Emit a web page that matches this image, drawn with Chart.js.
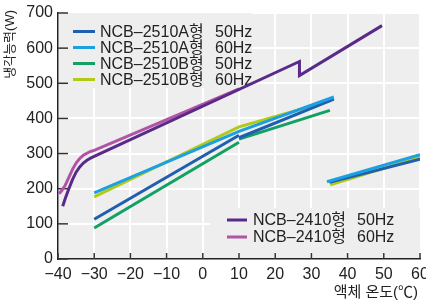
<!DOCTYPE html>
<html lang="ko">
<head>
  <meta charset="UTF-8">
  <title>냉각능력 – 액체 온도</title>
  <script src="https://cdn.jsdelivr.net/npm/chart.js"></script>
  <style>
    html, body { margin: 0; padding: 0; background: #fff; }
    #chart { display: block; }
  </style>
</head>
<body>
<canvas id="chart" width="426" height="302"></canvas>
<script>
  // values (null = break in the line)
  const a50Temp = [-30, 10, 10, 10, 36.2, 35, 35, 60];
  const a50Cap  = [113, 352, null, 345, 455, null, 218, 284];
  const a60Temp = [-30, 10, 36.2, 34.3, 34.3, 60];
  const a60Cap  = [188, 363, 461, null, 220, 297];
  const b50Temp = [-30, 10, 10, 10, 35.1];
  const b50Cap  = [88, 332, null, 341, 423];
  const b60Temp = [-30, 10, 35.1, 35.2, 35.2, 60];
  const b60Cap  = [177, 376, 450, null, 211, 290];
  const n50Temp = [-38.7, -38, -37, -36, -35, -34, -33, -32, -31, -30, 26.7, 26.7, 49.5];
  const n50Cap  = [150, 172, 200, 226, 247, 262, 273, 281, 287, 292, 562, 522, 664];
  const n60Temp = [-39.7, -39, -38, -37, -36, -35, -34, -33, -32, -31, -30, 10];
  const n60Cap  = [186, 194, 210, 232, 255, 273, 286, 295, 301, 306, 309, 484];

  const xTicks = [-40, -30, -20, -10, 0, 10, 20, 30, 40, 50, 60];
  const yTicks = [0, 100, 200, 300, 400, 500, 600, 700];

  const FONT = "'Liberation Sans', 'Noto Sans CJK KR', Arial, sans-serif";
  const INK = '#222';
  const PANEL = '#eeeeee';

  const series = [
    { name: 'NCB–2410형', hz: '50Hz', color: '#5a2a8a', t: n50Temp, c: n50Cap },
    { name: 'NCB–2410형', hz: '60Hz', color: '#b154a6', t: n60Temp, c: n60Cap },
    { name: 'NCB–2510A형', hz: '60Hz', color: '#1ba0e2', t: a60Temp, c: a60Cap },
    { name: 'NCB–2510A형', hz: '50Hz', color: '#1f5fae', t: a50Temp, c: a50Cap },
    { name: 'NCB–2510B형', hz: '60Hz', color: '#b2c918', t: b60Temp, c: b60Cap },
    { name: 'NCB–2510B형', hz: '50Hz', color: '#12a064', t: b50Temp, c: b50Cap }
  ];

  const topLegend = [series[3], series[2], series[5], series[4]];
  const bottomLegend = [series[0], series[1]];

  const panel = {
    id: 'panel',
    beforeDraw(chart) {
      const { ctx, chartArea: a } = chart;
      ctx.save();
      ctx.fillStyle = PANEL;
      ctx.fillRect(a.left, a.top, a.right - a.left, a.bottom - a.top);
      ctx.restore();
    },
    beforeDatasetsDraw(chart) {
      const { ctx, chartArea: a, scales } = chart;
      ctx.save();
      // legend boxes hide the grid
      ctx.fillStyle = PANEL;
      ctx.fillRect(a.left + 2, a.top, 192, 75);
      ctx.fillRect(210, 208, a.right - 210, 44);

      ctx.font = '16px ' + FONT;
      ctx.fillStyle = INK;
      ctx.textBaseline = 'middle';
      ctx.lineWidth = 3;
      topLegend.forEach((s, i) => {
        const y = 31.5 + i * 16;
        ctx.strokeStyle = s.color;
        ctx.beginPath(); ctx.moveTo(73, y); ctx.lineTo(95, y); ctx.stroke();
        ctx.fillText(s.name, 100, y + 1);
        ctx.fillText(s.hz, 215, y + 1);
      });
      bottomLegend.forEach((s, i) => {
        const y = 220 + i * 17;
        ctx.strokeStyle = s.color;
        ctx.beginPath(); ctx.moveTo(227, y); ctx.lineTo(247, y); ctx.stroke();
        ctx.fillText(s.name, 253, y + 1);
        ctx.fillText(s.hz, 357, y + 1);
      });

      // inner tick marks
      ctx.strokeStyle = '#333';
      ctx.lineWidth = 1.5;
      yTicks.forEach(v => {
        const y = scales.y.getPixelForValue(v);
        ctx.beginPath(); ctx.moveTo(a.left, y); ctx.lineTo(a.left + 10, y); ctx.stroke();
      });
      xTicks.forEach(v => {
        const x = scales.x.getPixelForValue(v);
        ctx.beginPath(); ctx.moveTo(x, a.bottom); ctx.lineTo(x, a.bottom - 6); ctx.stroke();
      });
      ctx.restore();
    },
    afterDraw(chart) {
      const { ctx } = chart;
      ctx.save();
      ctx.fillStyle = INK;
      ctx.font = '13px ' + FONT;
      ctx.translate(10, 10);
      ctx.rotate(-Math.PI / 2);
      ctx.textAlign = 'right';
      ctx.textBaseline = 'middle';
      ctx.fillText('냉각능력(W)', 0, 0);
      ctx.restore();

      ctx.save();
      ctx.fillStyle = INK;
      ctx.font = '15px ' + FONT;
      ctx.textAlign = 'right';
      ctx.textBaseline = 'middle';
      ctx.fillText('액체 온도(℃)', 418, 293);
      ctx.restore();
    }
  };

  new Chart(document.getElementById('chart'), {
    type: 'line',
    data: {
      datasets: series.map(s => ({
        label: s.name + ' ' + s.hz,
        data: s.t.map((t, i) => ({ x: t, y: s.c[i] })),
        borderColor: s.color,
        borderWidth: 3,
        pointRadius: 0,
        tension: 0,
        spanGaps: false,
        fill: false
      }))
    },
    options: {
      responsive: false,
      devicePixelRatio: 1,
      animation: false,
      layout: { padding: { left: 0, right: 6, top: 13, bottom: 0 } },
      plugins: { legend: { display: false }, tooltip: { enabled: false } },
      scales: {
        x: {
          type: 'linear', min: -40, max: 60,
          afterBuildTicks: s => { s.ticks = xTicks.map(v => ({ value: v })); },
          ticks: {
            font: { size: 16, family: FONT }, color: INK, padding: 6,
            maxRotation: 0, autoSkip: false,
            callback: v => String(v).replace('-', '\u2212')
          },
          grid: { color: '#ffffff', lineWidth: 2, drawTicks: false },
          border: { color: '#222', width: 1.5 },
          afterFit: s => { s.height = 43; s.paddingLeft = 0; s.paddingRight = 0; }
        },
        y: {
          min: 0, max: 700,
          afterBuildTicks: s => { s.ticks = yTicks.map(v => ({ value: v })); },
          ticks: { font: { size: 16, family: FONT }, color: INK, padding: 5 },
          grid: { color: '#ffffff', lineWidth: 2, drawTicks: false },
          border: { color: '#222', width: 1.5 },
          afterFit: s => { s.width = 58; s.paddingTop = 0; s.paddingBottom = 0; }
        }
      }
    },
    plugins: [panel]
  });
</script>
</body>
</html>
